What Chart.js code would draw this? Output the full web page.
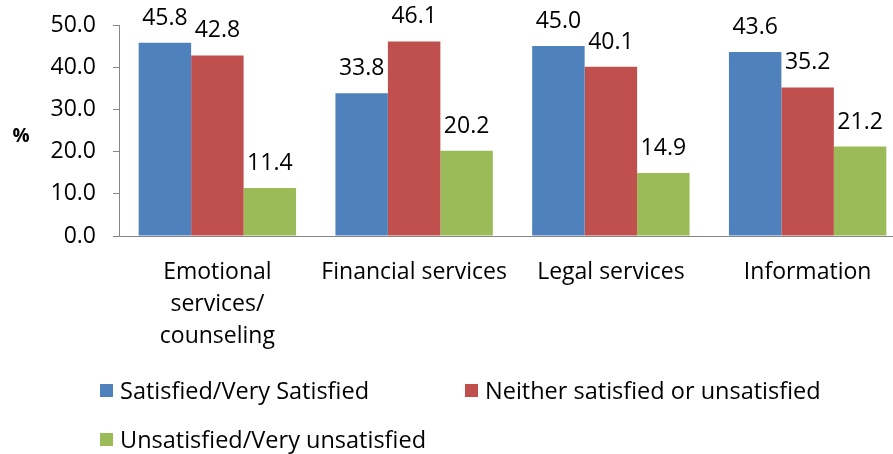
<!DOCTYPE html>
<html>
<head>
<meta charset="utf-8">
<script src="https://cdn.jsdelivr.net/npm/chart.js@4"></script>
<style>
  body { margin: 0; background: #fff; }
  #wrap { position: relative; width: 893px; height: 454px; overflow: hidden; }
  #legend { position: absolute; left: 0; top: 0; font-family: "Open Sans", sans-serif; font-size: 23.5px; color: #000; }
  .item { position: absolute; white-space: nowrap; line-height: 26px; }
  .item span.box { position: absolute; width: 13px; height: 13px; left: -20px; top: 7px; }
</style>
</head>
<body>
<div id="wrap">
  <canvas id="chart" width="906" height="454"></canvas>
  <div id="legend"></div>
</div>
<script>
// chart data
const categories = [
  ["Emotional", "services/", "counseling"],
  "Financial services",
  "Legal services",
  "Information",
];
const seriesNames = [
  "Satisfied/Very Satisfied",
  "Neither satisfied or unsatisfied",
  "Unsatisfied/Very unsatisfied",
];
const satisfied = [45.8, 33.8, 45.0, 43.6];
const neither = [42.8, 46.1, 40.1, 35.2];
const unsatisfied = [11.4, 20.2, 14.9, 21.2];
const yTicks = [0, 10, 20, 30, 40, 50];

const colors = ["#4F81BD", "#C0504D", "#9BBB59"];
const FONT = "'Open Sans', sans-serif";

// value labels above each bar
const valueLabels = {
  id: "valueLabels",
  afterDatasetsDraw(chart) {
    const ctx = chart.ctx;
    ctx.save();
    ctx.font = "23px " + FONT;
    ctx.fillStyle = "#000";
    ctx.textAlign = "center";
    ctx.textBaseline = "alphabetic";
    chart.data.datasets.forEach((ds, i) => {
      chart.getDatasetMeta(i).data.forEach((bar, j) => {
        ctx.fillText(ds.data[j].toFixed(1), bar.x, bar.y - 18);
      });
    });
    ctx.restore();
  },
};

// horizontal "%" axis title
const yTitle = {
  id: "yTitle",
  afterDraw(chart) {
    const ctx = chart.ctx;
    ctx.save();
    ctx.font = "bold 19px " + FONT;
    ctx.fillStyle = "#000";
    ctx.textAlign = "center";
    ctx.textBaseline = "middle";
    ctx.fillText("%", 21, 137);
    ctx.restore();
  },
};

const chart = new Chart(document.getElementById("chart"), {
  type: "bar",
  data: {
    labels: categories,
    datasets: [satisfied, neither, unsatisfied].map((d, i) => ({
      label: seriesNames[i],
      data: d,
      backgroundColor: colors[i],
      borderWidth: 0,
      categoryPercentage: 0.8,
      barPercentage: 1,
    })),
  },
  options: {
    responsive: false,
    animation: false,
    layout: { padding: { top: 25, right: 0, bottom: 98, left: 0 } },
    plugins: {
      legend: { display: false },
      tooltip: { enabled: false },
    },
    scales: {
      x: {
        grid: { display: false },
        border: { color: "#868686", width: 1 },
        ticks: {
          color: "#000",
          font: { family: FONT, size: 23, lineHeight: 1.38 },
          padding: 13,
          maxRotation: 0,
          autoSkip: false,
        },
        afterFit: (s) => { s.height = 120; },
      },
      y: {
        min: 0,
        max: 50,
        afterBuildTicks: (s) => { s.ticks = yTicks.map((v) => ({ value: v })); },
        grid: { drawOnChartArea: false, drawTicks: true, tickLength: 6, color: "#868686" },
        border: { color: "#868686", width: 1 },
        ticks: {
          color: "#000",
          font: { family: FONT, size: 23 },
          padding: 17,
          callback: (v) => Number(v).toFixed(1),
        },
        afterFit: (s) => {
          s.width = 119;
          s.paddingTop = 0;
          s.paddingBottom = 0;
        },
      },
    },
  },
  plugins: [valueLabels, yTitle],
});

// legend laid out like the original (two columns, wrapping)
const legendPos = [
  [120, 377],
  [485, 377],
  [120, 426],
];
const legend = document.getElementById("legend");
seriesNames.forEach((name, i) => {
  const el = document.createElement("div");
  el.className = "item";
  el.style.left = legendPos[i][0] + "px";
  el.style.top = legendPos[i][1] + "px";
  el.innerHTML = '<span class="box" style="background:' + colors[i] + '"></span>' + name;
  legend.appendChild(el);
});
</script>
</body>
</html>
